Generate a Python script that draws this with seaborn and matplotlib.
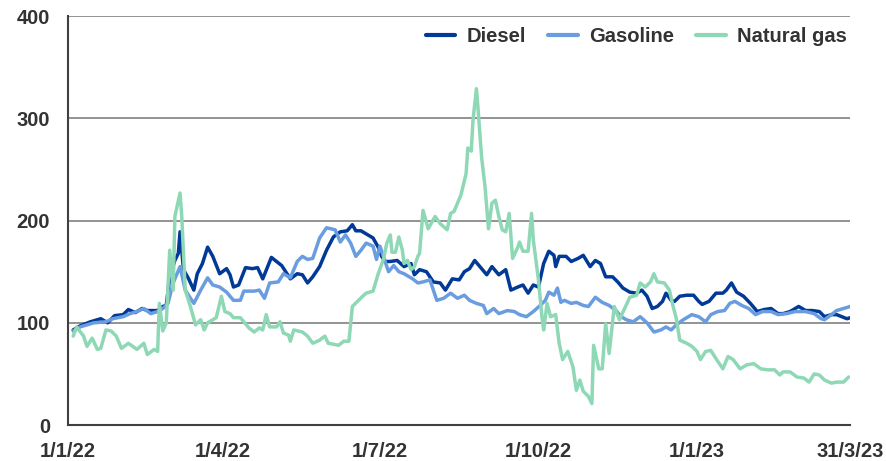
import datetime as dt

import matplotlib
matplotlib.use("Agg")
import matplotlib.pyplot as plt
import matplotlib.dates as mdates
import pandas as pd
import seaborn as sns

# index values, x given as days since 1 Jan 2022
diesel_days = [3, 7, 13, 19, 23, 27, 32, 35, 39, 43, 46, 52, 55, 57, 59, 62, 64, 65, 67, 70,
               73, 75, 78, 81, 84, 88, 92, 94, 96, 99, 103, 107, 110, 113, 118, 124, 129, 133, 136, 139,
               142, 146, 150, 154, 158, 162, 165, 167, 170, 174, 177, 180, 182, 184, 187, 191, 195, 199, 201, 204,
               208, 212, 216, 219, 223, 227, 230, 233, 236, 239, 243, 246, 250, 254, 257, 261, 264, 267, 270, 273,
               276, 279, 282, 283, 285, 289, 292, 296, 299, 303, 306, 309, 312, 316, 319, 322, 326, 330, 333, 336,
               339, 342, 345, 347, 350, 352, 355, 359, 363, 366, 368, 372, 376, 380, 382, 385, 388, 392, 396, 400,
               404, 408, 412, 415, 419, 424, 428, 432, 436, 439, 443, 446, 449, 452, 454]
diesel = [93, 97, 101, 104, 100, 107, 108, 113, 110, 114, 112, 112, 116, 117, 145, 161, 168, 189, 152, 143,
          132, 148, 158, 174, 165, 148, 153, 147, 135, 137, 154, 153, 154, 143, 164, 156, 143, 148, 147, 139,
          145, 155, 171, 184, 189, 190, 196, 190, 190, 186, 183, 174, 165, 160, 160, 161, 155, 158, 147, 152,
          150, 140, 139, 132, 143, 142, 150, 153, 161, 155, 147, 155, 147, 152, 132, 135, 137, 129, 137, 135,
          158, 170, 166, 155, 165, 165, 160, 163, 166, 155, 161, 158, 145, 145, 140, 134, 130, 129, 132, 126,
          114, 116, 121, 129, 122, 121, 126, 127, 127, 121, 118, 121, 129, 129, 132, 139, 130, 126, 119, 111,
          113, 114, 109, 109, 111, 116, 112, 112, 111, 106, 108, 108, 106, 104, 105]

gasoline_days = [3, 7, 15, 22, 26, 32, 36, 40, 44, 48, 52, 55, 58, 61, 65, 68, 73, 77, 81, 84,
                 88, 92, 96, 100, 102, 108, 111, 114, 117, 122, 125, 129, 133, 136, 139, 142, 146, 150, 155, 158,
                 161, 164, 167, 170, 173, 177, 179, 181, 184, 186, 189, 192, 195, 200, 203, 206, 210, 214, 218, 222,
                 226, 230, 233, 237, 241, 243, 247, 250, 255, 259, 262, 266, 270, 274, 277, 279, 282, 284, 286, 288,
                 292, 295, 299, 302, 306, 310, 314, 318, 321, 324, 328, 332, 336, 340, 344, 347, 350, 353, 357, 362,
                 366, 370, 373, 377, 381, 384, 387, 391, 395, 399, 403, 408, 412, 417, 422, 428, 433, 437, 439, 443,
                 446, 450, 454]
gasoline = [92, 96, 100, 101, 104, 106, 109, 111, 114, 109, 111, 114, 119, 139, 155, 132, 119, 132, 144, 137,
            135, 130, 122, 122, 131, 131, 132, 124, 139, 140, 148, 144, 160, 165, 162, 163, 183, 193, 191, 179,
            186, 178, 165, 171, 178, 175, 162, 175, 160, 150, 156, 150, 148, 143, 139, 140, 142, 122, 124, 129,
            124, 127, 122, 119, 117, 109, 114, 109, 112, 111, 108, 106, 111, 117, 122, 130, 127, 134, 120, 122,
            119, 120, 117, 116, 125, 120, 117, 112, 106, 103, 101, 106, 100, 91, 93, 96, 93, 98, 103, 108,
            106, 101, 108, 111, 112, 119, 121, 117, 114, 108, 111, 111, 108, 109, 111, 111, 109, 104, 103, 108,
            112, 114, 116]

gas_days = [3, 5, 9, 11, 14, 17, 19, 22, 25, 28, 31, 35, 40, 44, 46, 50, 52, 53, 55, 57,
            59, 61, 62, 65, 66, 68, 71, 74, 77, 79, 81, 84, 86, 89, 91, 94, 96, 100, 102, 105,
            108, 111, 113, 115, 117, 121, 123, 125, 128, 129, 131, 136, 139, 142, 146, 149, 151, 157, 160, 163,
            165, 168, 171, 173, 177, 180, 183, 185, 187, 188, 190, 192, 194, 195, 197, 199, 201, 203, 204, 206,
            209, 213, 216, 220, 222, 224, 228, 231, 232, 234, 235, 237, 238, 240, 242, 244, 246, 248, 250, 252,
            254, 256, 258, 261, 262, 264, 267, 269, 270, 273, 275, 276, 278, 280, 283, 285, 287, 290, 293, 295,
            297, 299, 302, 304, 305, 308, 310, 312, 314, 317, 320, 323, 326, 330, 332, 335, 338, 340, 342, 346,
            349, 351, 353, 355, 359, 362, 365, 367, 370, 373, 376, 380, 383, 386, 390, 394, 398, 402, 406, 410,
            413, 415, 419, 423, 427, 430, 433, 436, 439, 443, 446, 450, 453]
natural_gas = [87, 96, 87, 77, 85, 74, 75, 93, 92, 87, 75, 80, 74, 80, 69, 74, 72, 119, 92, 100,
               171, 132, 204, 227, 204, 132, 116, 98, 103, 93, 100, 103, 105, 126, 111, 109, 105, 105, 101, 95,
               91, 95, 93, 108, 96, 96, 101, 90, 88, 82, 93, 91, 87, 80, 83, 87, 80, 78, 82, 82,
               116, 121, 126, 129, 131, 148, 162, 178, 186, 169, 169, 184, 171, 158, 161, 152, 155, 165, 168, 210,
               192, 204, 197, 191, 207, 209, 225, 246, 271, 268, 298, 329, 308, 262, 233, 192, 217, 220, 204, 191,
               189, 207, 163, 174, 179, 170, 170, 207, 181, 142, 106, 93, 119, 106, 108, 80, 64, 72, 57, 34,
               44, 33, 28, 21, 78, 55, 55, 99, 70, 116, 103, 114, 125, 127, 139, 135, 140, 148, 140, 139,
               132, 117, 104, 83, 80, 77, 72, 64, 72, 73, 65, 55, 67, 64, 55, 59, 60, 55, 54, 54,
               49, 52, 52, 47, 46, 42, 50, 49, 44, 41, 42, 42, 47]

series_names = ["Diesel", "Gasoline", "Natural gas"]
colors = ["#003a96", "#6a9de0", "#8ed8b6"]

y_ticks = [0, 100, 200, 300, 400]
x_tick_dates = ["2022-01-01", "2022-04-01", "2022-07-01", "2022-10-01", "2023-01-01", "2023-03-31"]
x_tick_labels = ["1/1/22", "1/4/22", "1/7/22", "1/10/22", "1/1/23", "31/3/23"]

start = dt.datetime(2022, 1, 1)


def to_frame(name, days, values):
    return pd.DataFrame({
        "date": [start + dt.timedelta(days=d) for d in days],
        "value": values,
        "series": name,
    })


df = pd.concat([
    to_frame("Diesel", diesel_days, diesel),
    to_frame("Gasoline", gasoline_days, gasoline),
    to_frame("Natural gas", gas_days, natural_gas),
], ignore_index=True)

sns.set_theme(style="white")
plt.rcParams["font.family"] = ["Liberation Sans", "DejaVu Sans"]

FONT_SIZE = 14.5

fig = plt.figure(figsize=(8.87, 4.61), dpi=100)
ax = fig.add_axes([0.0767, 0.078, 0.882, 0.887])

ax.grid(axis="y", color="#808080", linewidth=1.2)
ax.set_axisbelow(True)

sns.lineplot(data=df, x="date", y="value", hue="series", hue_order=series_names,
             palette=dict(zip(series_names, colors)), linewidth=2.5,
             estimator=None, ax=ax, legend=False)

ax.set_ylim(0, 400)
ax.set_yticks(y_ticks)
ax.set_xlim(start, start + dt.timedelta(days=454))
ax.set_xticks([mdates.date2num(pd.Timestamp(d)) for d in x_tick_dates])
ax.set_xticklabels(x_tick_labels)
ax.set_xlabel("")
ax.set_ylabel("")

for side in ["top", "right"]:
    ax.spines[side].set_visible(False)
for side in ["left", "bottom"]:
    ax.spines[side].set_color("#404040")
    ax.spines[side].set_linewidth(1.5)

ax.tick_params(axis="both", direction="out", length=5, width=1.3, color="#404040",
               labelsize=FONT_SIZE, labelcolor="#333333")
ax.tick_params(axis="y", pad=8)
ax.tick_params(axis="x", pad=7)
for lbl in ax.get_xticklabels() + ax.get_yticklabels():
    lbl.set_fontweight("bold")

handles = [plt.Line2D([], [], color=c, linewidth=3) for c in colors]
leg = ax.legend(handles, series_names, ncol=3, loc="center right", bbox_to_anchor=(0.996, 0.95),
                frameon=False, borderpad=0, borderaxespad=0, handlelength=1.45,
                columnspacing=1.1, handletextpad=0.58,
                prop={"weight": "bold", "size": FONT_SIZE})
for t in leg.get_texts():
    t.set_color("#333333")

fig.savefig("out.png", dpi=100)
